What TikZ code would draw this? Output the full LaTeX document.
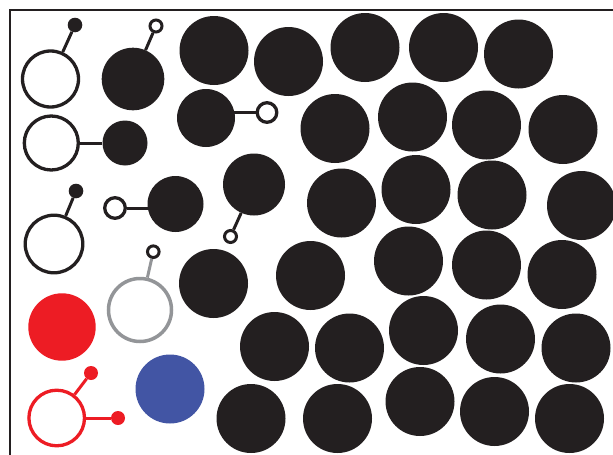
\documentclass[tikz,border=0pt]{standalone}
\usepackage{tikz}
\definecolor{ink}{HTML}{231F20}
\definecolor{molred}{HTML}{ED1C24}
\definecolor{molblue}{HTML}{4255A4}
\definecolor{molgray}{HTML}{939598}
\tikzset{
  blob/.style={circle, fill=ink, inner sep=0pt, minimum size=#1},
  ring/.style={circle, draw=ink, fill=white, line width=3.3pt, inner sep=0pt, minimum size=#1},
  knob/.style={circle, fill=ink, inner sep=0pt, minimum size=14.6pt},
  eyelet/.style={circle, draw=ink, fill=white, line width=3pt, inner sep=0pt, minimum size=#1},
  bond/.style={draw=ink, line width=3pt},
}
\begin{document}
\begin{tikzpicture}[x=1pt, y=-1pt]
\useasboundingbox (0,0) rectangle (613,455);
\clip (0,0) rectangle (613,455);

% frame
\draw[ink, line width=2.2pt] (10,460) -- (10,10) -- (620,10);

% packed molecules
\foreach \n/\px/\py in {
  1/214/50.5, 2/288.5/61.5, 3/365/47.5, 4/443.5/47.5, 5/518.5/54,
  6/335/128.5, 7/412.5/117, 8/486.5/125, 9/563/129.5,
  10/341.5/203, 11/416/189.5, 12/492/195, 13/581.5/205.5,
  14/213.5/283.5, 15/310.5/275.5, 16/408.5/261, 17/486.5/265, 18/562/274.5,
  19/274.5/346.5, 20/349.5/348, 21/423.5/330.5, 22/500.5/339, 23/576/348,
  24/251/418.5, 25/337.5/418.5, 26/420/401.5, 27/494.5/411.5, 28/569.5/418.5}
  \node[blob=69pt] (b\n) at (\px,\py) {};

% open ring with a filled knob
\node[ring=56pt] (ringA) at (50.5,79) {};
\node[knob] (knobA) at (75,25) {};
\draw[bond] (ringA) -- (knobA);

% filled sphere with an eyelet
\node[blob=62.6pt] (blobB) at (133,79) {};
\node[eyelet=12pt] (eyeB) at (156,26) {};
\draw[bond] (blobB) -- (eyeB);

% open ring bonded to a small sphere
\node[ring=54pt] (ringC) at (51.3,143) {};
\node[blob=45pt] (blobC) at (125,143) {};
\draw[bond] (ringC) -- (blobC);

% open ring with a filled knob
\node[ring=57.6pt] (ringD) at (54,244) {};
\node[knob] (knobD) at (76,191) {};
\draw[bond] (ringD) -- (knobD);

% eyelet bonded to a sphere
\node[blob=56pt] (blobE) at (175.5,204) {};
\node[eyelet=20.6pt, line width=3.3pt] (eyeE) at (115,208) {};
\draw[bond] (eyeE.east) -- (eyeE.east -| blobE.center);

% sphere bonded to an eyelet
\node[blob=58pt] (blobF) at (206,118) {};
\node[eyelet=19.6pt, line width=3.3pt] (eyeF) at (267,112.5) {};
\draw[bond] (eyeF.west) -- (eyeF.west -| blobF.center);

% sphere with an eyelet below
\node[blob=62pt] (blobG) at (254,184.5) {};
\node[eyelet=12pt] (eyeG) at (230.5,236.5) {};
\draw[bond] (blobG) -- (eyeG);

% grey ring with an eyelet
\node[circle, draw=molgray, fill=white, line width=3.5pt, inner sep=0pt, minimum size=63pt] (ringH) at (140,310) {};
\node[eyelet=11.6pt] (eyeH) at (153.3,251.7) {};
\draw[molgray, line width=3pt] (ringH) -- (eyeH);

% red and blue spheres
\node[circle, fill=molred, inner sep=0pt, minimum size=67.4pt] (redS) at (62,327) {};
\node[circle, fill=molblue, inner sep=0pt, minimum size=69pt] (blueS) at (170,389) {};

% red ring with two knobs
\node[circle, draw=molred, fill=white, line width=3.3pt, inner sep=0pt, minimum size=55.6pt] (ringR) at (56.7,418) {};
\node[circle, fill=molred, inner sep=0pt, minimum size=14pt] (knobR1) at (91,373) {};
\node[circle, fill=molred, inner sep=0pt, minimum size=14pt] (knobR2) at (118,418) {};
\draw[molred, line width=3pt] (ringR) -- (knobR1);
\draw[molred, line width=3pt] (ringR) -- (knobR2);
\end{tikzpicture}
\end{document}
